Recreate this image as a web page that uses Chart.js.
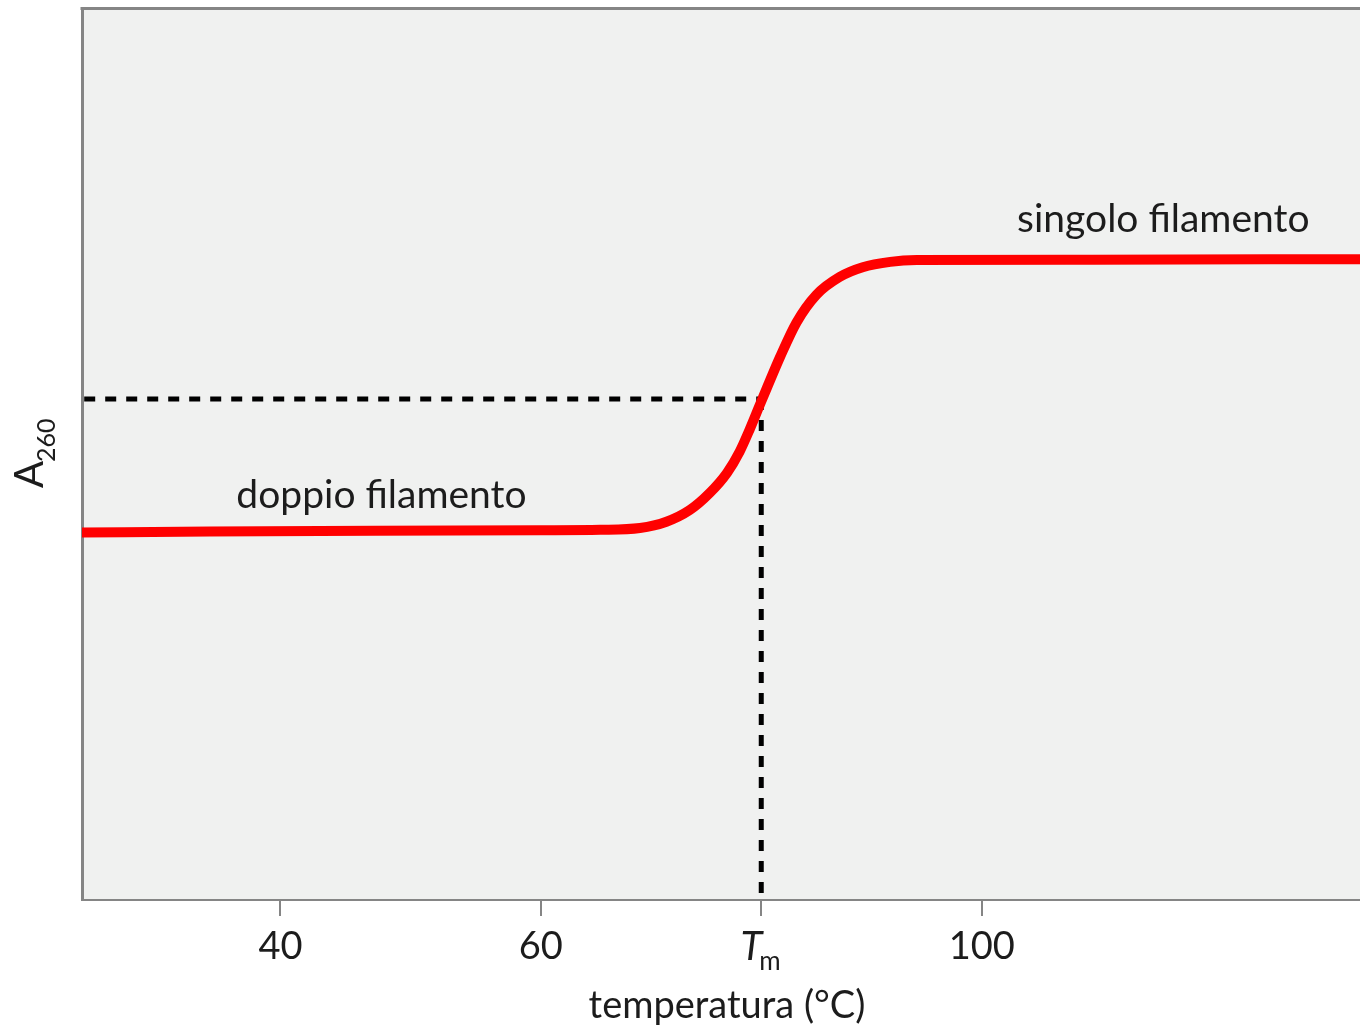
<!DOCTYPE html>
<html>
<head>
<meta charset="utf-8">
<script src="https://cdn.jsdelivr.net/npm/chart.js@4.4.1/dist/chart.umd.min.js"></script>
<style>
    body { margin: 0; background: #ffffff; }
    #wrap { width: 1360px; height: 1030px; }
</style>
</head>
<body>
<div id="wrap"><canvas id="meltChart" width="1360" height="1030"></canvas></div>
<script>
// Melting curve data (schematic axis)
const temperature = [18.4, 30, 45, 60, 65.4, 69.0, 71.4, 73.5, 75.3, 76.9, 78.05, 78.96, 79.86, 80.5, 81.7, 83.2, 85.0, 87.1, 89.2, 91.7, 94.1, 110, 134.3];
const absorbance = [41.3, 41.4, 41.5, 41.55, 41.6, 41.8, 42.5, 43.8, 45.7, 48.0, 50.4, 52.9, 55.6, 57.5, 61.0, 64.9, 68.0, 70.0, 71.1, 71.7, 71.9, 71.95, 72.0];

// Tm guide lines
const tmValue = 80;
const tmAbsorbance = 56.3;

// X axis ticks
const tickPositions = [36.4, 60, 80, 100];
const tickLabels = ['40', '60', 'Tm', '100'];

const FONT = 'Lato, "Noto Sans", sans-serif';
const TEXT_COLOR = '#1c1c1c';
const AXIS_COLOR = '#858585';

// Background, top frame line and custom texts
const decorPlugin = {
    id: 'decor',
    beforeDraw(chart) {
        const { ctx, chartArea } = chart;
        ctx.save();
        ctx.fillStyle = '#f0f1f0';
        ctx.fillRect(chartArea.left, chartArea.top, chartArea.right - chartArea.left, chartArea.bottom - chartArea.top);
        ctx.restore();
    },
    afterDraw(chart) {
        const { ctx, chartArea } = chart;
        const x = chart.scales.x;
        const y = chart.scales.y;
        ctx.save();

        // top frame line
        ctx.fillStyle = AXIS_COLOR;
        ctx.fillRect(chartArea.left - 1.5, chartArea.top - 3, chartArea.right - chartArea.left + 1.5, 3);

        ctx.fillStyle = TEXT_COLOR;
        ctx.textBaseline = 'alphabetic';

        // curve labels
        ctx.font = '39px ' + FONT;
        ctx.textAlign = 'left';
        ctx.fillText('doppio filamento', x.getPixelForValue(32.4), y.getPixelForValue(44.0));
        ctx.fillText('singolo filamento', x.getPixelForValue(103.2), y.getPixelForValue(75.1));

        // x axis title
        ctx.font = '38px ' + FONT;
        ctx.textAlign = 'center';
        ctx.fillText('temperatura (°C)', 727, 1018);

        // Tm tick label: italic T with subscript m
        const tx = x.getPixelForValue(tmValue);
        ctx.font = 'italic 40px ' + FONT;
        ctx.textAlign = 'right';
        ctx.fillText('T', tx + 1, 960);
        ctx.font = '26px ' + FONT;
        ctx.textAlign = 'left';
        ctx.fillText('m', tx - 2, 970);

        // y axis label: A with subscript 260
        ctx.translate(43, 488);
        ctx.rotate(-Math.PI / 2);
        ctx.font = '40px ' + FONT;
        ctx.textAlign = 'left';
        ctx.fillText('A', 0, 0);
        const aw = ctx.measureText('A').width;
        ctx.font = '25px ' + FONT;
        ctx.fillText('260', aw - 1, 12);

        ctx.restore();
    }
};

new Chart(document.getElementById('meltChart'), {
    type: 'line',
    data: {
        datasets: [
            {
                label: 'A260',
                data: temperature.map((t, i) => ({ x: t, y: absorbance[i] })),
                borderColor: '#ff0000',
                borderWidth: 10,
                pointRadius: 0,
                cubicInterpolationMode: 'monotone',
                borderCapStyle: 'round',
                order: 0
            },
            {
                label: 'Tm horizontal',
                data: [{ x: 18.6, y: tmAbsorbance }, { x: tmValue, y: tmAbsorbance }],
                borderColor: '#000000',
                borderWidth: 5,
                borderDash: [11, 10],
                pointRadius: 0,
                order: 1
            },
            {
                label: 'Tm vertical',
                data: [{ x: tmValue, y: tmAbsorbance }, { x: tmValue, y: 0 }],
                borderColor: '#000000',
                borderWidth: 5,
                borderDash: [11, 10],
                pointRadius: 0,
                order: 2
            }
        ]
    },
    options: {
        responsive: false,
        animation: false,
        layout: {
            padding: { top: 10, right: 0, left: 0, bottom: 0 }
        },
        plugins: {
            legend: { display: false },
            tooltip: { enabled: false }
        },
        scales: {
            x: {
                type: 'linear',
                min: 18.4,
                max: 134.3,
                afterFit(scale) { scale.height = 130; },
                afterBuildTicks(scale) {
                    scale.ticks = tickPositions.map(v => ({ value: v }));
                },
                grid: {
                    drawOnChartArea: false,
                    drawTicks: true,
                    tickLength: 16,
                    color: AXIS_COLOR,
                    lineWidth: 2
                },
                border: { color: AXIS_COLOR, width: 2 },
                ticks: {
                    autoSkip: false,
                    maxRotation: 0,
                    padding: 8,
                    color: TEXT_COLOR,
                    font: { family: FONT, size: 38 },
                    callback: function(value, index) {
                        const label = tickLabels[index];
                        return label === 'Tm' ? '' : label;
                    }
                }
            },
            y: {
                min: 0,
                max: 100,
                afterFit(scale) { scale.width = 82; },
                grid: { display: false, drawTicks: false },
                border: { color: AXIS_COLOR, width: 3 },
                ticks: { display: false }
            }
        }
    },
    plugins: [decorPlugin]
});
</script>
</body>
</html>
